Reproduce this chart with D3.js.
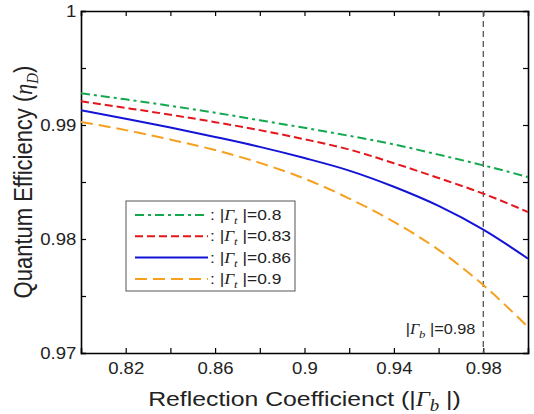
<!DOCTYPE html>
<html>
<head>
<meta charset="utf-8">
<script src="https://cdn.jsdelivr.net/npm/d3@7"></script>
<style>
	body { margin: 0; background: #fff; }
	svg { display: block; font-family: "Liberation Sans", Arial, sans-serif; }
	.gam { font-family: "Liberation Serif", serif; font-style: italic; }
</style>
</head>
<body>
<div id="chart"></div>
<script>
var gammaB = [0.80, 0.82, 0.84, 0.86, 0.88, 0.90, 0.92, 0.94, 0.96, 0.98, 1.00];
var eta080 = [0.99278, 0.99225, 0.99168, 0.99108, 0.99042, 0.98975, 0.98905, 0.98830, 0.98740, 0.98646, 0.98544];
var eta083 = [0.99208, 0.99150, 0.99090, 0.99025, 0.98955, 0.98875, 0.98785, 0.98665, 0.98535, 0.98398, 0.98237];
var eta086 = [0.99129, 0.99055, 0.98978, 0.98895, 0.98808, 0.98710, 0.98600, 0.98458, 0.98290, 0.98082, 0.97828];
var eta090 = [0.99027, 0.98955, 0.98872, 0.98780, 0.98668, 0.98530, 0.98355, 0.98150, 0.97905, 0.97596, 0.97228];
var seriesNames = ["0.8", "0.83", "0.86", "0.9"];
var xTicks = [0.80, 0.82, 0.84, 0.86, 0.88, 0.90, 0.92, 0.94, 0.96, 0.98, 1.00];
var xLabels = [0.82, 0.86, 0.90, 0.94, 0.98];
var yTicks = [0.970, 0.975, 0.980, 0.985, 0.990, 0.995, 1.000];
var yLabels = [0.97, 0.98, 0.99, 1];
var markerX = 0.98;

var width = 534, height = 414;
var margin = {top: 11, right: 6, bottom: 61, left: 81};
var w = width - margin.left - margin.right,
		h = height - margin.top - margin.bottom;
// the reference text is a little wide, so stretch it horizontally
var sx = 1.16;

var styles = [
	{color: "#13a84e", dash: "9,4,3,4"},
	{color: "#e3161c", dash: "8,4"},
	{color: "#1414d6", dash: null},
	{color: "#f5a01e", dash: "12,6"}
];
var series = [eta080, eta083, eta086, eta090];

var svg = d3.select("#chart").append("svg")
		.attr("width", width)
		.attr("height", height);

var g = svg.append("g")
		.attr("transform", "translate(" + margin.left + "," + margin.top + ")");

var x = d3.scaleLinear().domain([0.8, 1.0]).range([0, w]);
var y = d3.scaleLinear().domain([0.97, 1.0]).range([h, 0]);

g.append("clipPath").attr("id", "clip")
	.append("rect").attr("width", w).attr("height", h);

function near(list, d) { return list.some(function(v) { return Math.abs(v - d) < 1e-9; }); }
function fmtX(d) { return near(xLabels, d) ? String(+d.toFixed(2)) : ""; }
function fmtY(d) { return near(yLabels, d) ? String(+d.toFixed(2)) : ""; }

// axes, ticks pointing inward
var xAxis = g.append("g").attr("transform", "translate(0," + h + ")")
		.call(d3.axisBottom(x).tickValues(xTicks).tickSize(-5).tickPadding(10).tickFormat(fmtX));
var xTop = g.append("g")
		.call(d3.axisTop(x).tickValues(xTicks).tickSize(-5).tickFormat(""));
var yAxis = g.append("g")
		.call(d3.axisLeft(y).tickValues(yTicks).tickSize(-5).tickPadding(4).tickFormat(fmtY));
var yRight = g.append("g").attr("transform", "translate(" + w + ",0)")
		.call(d3.axisRight(y).tickValues(yTicks).tickSize(-5).tickFormat(""));

g.selectAll(".domain").attr("stroke", "#000").attr("stroke-width", 1.6);
g.selectAll(".tick line").attr("stroke", "#000").attr("stroke-width", 1.2);
g.selectAll(".tick text").attr("fill", "#222").style("font-size", "16px")
		.style("font-family", "'Liberation Sans', Arial, sans-serif")
		.attr("transform", "scale(" + sx + ",1)");
xTop.selectAll(".tick").filter(function(d) { return d === 0.8 || d === 1.0; }).remove();
xAxis.selectAll(".tick").filter(function(d) { return d === 0.8 || d === 1.0; }).select("line").remove();
yRight.selectAll(".tick").filter(function(d) { return d === 0.97 || d === 1.0; }).remove();

// marker line at |Γb| = 0.98
g.append("line")
		.attr("x1", x(markerX)).attr("x2", x(markerX))
		.attr("y1", 0).attr("y2", h)
		.attr("stroke", "#555").attr("stroke-width", 1.3)
		.attr("stroke-dasharray", "6,4");

var mlabel = g.append("g")
		.attr("transform", "translate(" + (x(markerX) - 8) + "," + (h - 19) + ") scale(" + sx + ",1)")
	.append("text")
		.attr("text-anchor", "end")
		.attr("fill", "#222").style("font-size", "14px");
mlabel.append("tspan").text("|");
mlabel.append("tspan").attr("class", "gam").text("Γ");
mlabel.append("tspan").attr("class", "gam").attr("dy", 4).style("font-size", "11px").text("b");
mlabel.append("tspan").attr("dy", -4).text(" |=0.98");

// curves
var line = d3.line()
		.x(function(d) { return x(d[0]); })
		.y(function(d) { return y(d[1]); })
		.curve(d3.curveMonotoneX);

g.append("g").attr("clip-path", "url(#clip)")
	.selectAll("path").data(series).enter()
	.append("path")
		.attr("d", function(s) { return line(s.map(function(v, i) { return [gammaB[i], v]; })); })
		.attr("fill", "none")
		.attr("stroke", function(s, i) { return styles[i].color; })
		.attr("stroke-width", 2)
		.attr("stroke-dasharray", function(s, i) { return styles[i].dash; });

// legend
var lg = svg.append("g").attr("transform", "translate(126,201)");
lg.append("rect")
		.attr("width", 169).attr("height", 90)
		.attr("fill", "#fff").attr("stroke", "#555").attr("stroke-width", 1);

var rows = lg.selectAll(".row").data(seriesNames).enter()
	.append("g").attr("class", "row")
		.attr("transform", function(d, i) { return "translate(0," + (14 + i * 21.3) + ")"; });

rows.append("line")
		.attr("x1", 9).attr("x2", 82)
		.attr("stroke", function(d, i) { return styles[i].color; })
		.attr("stroke-width", 2)
		.attr("stroke-dasharray", function(d, i) { return styles[i].dash; });

var lt = rows.append("g")
		.attr("transform", "translate(84,5) scale(" + sx + ",1)")
	.append("text")
		.attr("fill", "#222").style("font-size", "15px");
lt.append("tspan").text(": |");
lt.append("tspan").attr("class", "gam").text("Γ");
lt.append("tspan").attr("class", "gam").attr("dy", 4).style("font-size", "11px").text("t");
lt.append("tspan").attr("dy", -4).text(" |=");
lt.append("tspan").text(function(d) { return d; });

// axis titles
var xt = svg.append("g")
		.attr("transform", "translate(" + (margin.left + w / 2) + ",406) scale(1.18,1)")
	.append("text")
		.attr("text-anchor", "middle")
		.attr("fill", "#222").style("font-size", "21px");
xt.append("tspan").text("Reflection Coefficienct (|");
xt.append("tspan").attr("class", "gam").text("Γ");
xt.append("tspan").attr("class", "gam").attr("dy", 5).style("font-size", "16px").text("b");
xt.append("tspan").attr("dy", -5).text(" |)");

var yt = svg.append("g")
		.attr("transform", "translate(32," + (margin.top + h / 2) + ") scale(" + sx + ",1) rotate(-90)")
	.append("text")
		.attr("text-anchor", "middle")
		.attr("fill", "#222").style("font-size", "22px");
yt.append("tspan").text("Quantum Efficiency (");
yt.append("tspan").attr("class", "gam").text("η");
yt.append("tspan").attr("class", "gam").attr("dy", 5).style("font-size", "15px").text("D");
yt.append("tspan").attr("dy", -5).text(")");
</script>
</body>
</html>
